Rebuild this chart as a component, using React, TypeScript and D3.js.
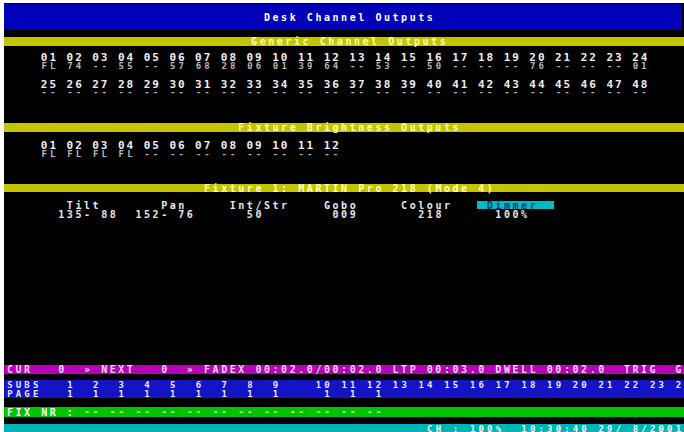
import { useEffect } from "react";
import * as d3 from "d3";

const W = 684;
const H = 432;

// channel data
const genericIds = [
  "01", "02", "03", "04", "05", "06", "07", "08", "09", "10", "11", "12",
  "13", "14", "15", "16", "17", "18", "19", "20", "21", "22", "23", "24",
  "25", "26", "27", "28", "29", "30", "31", "32", "33", "34", "35", "36",
  "37", "38", "39", "40", "41", "42", "43", "44", "45", "46", "47", "48",
];
const genericValues = [
  "FL", "74", "--", "55", "--", "57", "68", "28", "06", "01", "39", "64",
  "--", "53", "--", "50", "--", "--", "--", "76", "--", "--", "--", "01",
  "--", "--", "--", "--", "--", "--", "--", "--", "--", "--", "--", "--",
  "--", "--", "--", "--", "--", "--", "--", "--", "--", "--", "--", "--",
];
const fixtureIds = ["01", "02", "03", "04", "05", "06", "07", "08", "09", "10", "11", "12"];
const fixtureValues = ["FL", "FL", "FL", "FL", "--", "--", "--", "--", "--", "--", "--", "--"];

const paramLabels = ["Tilt", "Pan", "Int/Str", "Gobo", "Colour", "Dimmer"];
const paramValues = ["135- 88", "152- 76", "50", "009", "218", "100%"];
const selectedParam = "Dimmer";

const subIds = [
  "1", "2", "3", "4", "5", "6", "7", "8", "9", "10", "11", "12",
  "13", "14", "15", "16", "17", "18", "19", "20", "21", "22", "23", "24",
];
const pageValues = ["1", "1", "1", "1", "1", "1", "1", "1", "1", "1", "1", "1"];
const fixNrSlots = ["--", "--", "--", "--", "--", "--", "--", "--", "--", "--", "--", "--"];

const statusTexts = ["CUR", "0", "»", "NEXT", "0", "»", "FADEX", "00:02.0/00:02.0", "LTP", "00:03.0", "DWELL", "00:02.0", "TRIG", "GO"];
const clockText = "CH : 100%  10:30:40 29/ 8/2001";

// layout in text columns (80 column screen)
const paramLabelCols = [7, 18, 26, 37, 46, 56];
const paramValueCols = [6, 15, 28, 38, 48, 57];
const statusCols = [0, 6, 9, 11, 18, 21, 23, 29, 45, 49, 57, 63, 72, 78];

const PITCH = 8.57;
const col = d3.scaleLinear().domain([0, 80]).range([5.6, 5.6 + 80 * PITCH]);
const chCol = d3.scaleLinear().domain([0, 23]).range([4, 73]);
const FONT = "'DejaVu Sans Mono', monospace";

function Txt({ c, y, s, size = 11, fill = "#f0f0f0", weight = "bold" }: { c: number; y: number; s: string; size?: number; fill?: string; weight?: string }) {
  const ls = PITCH - 0.602 * size;
  return (
    <text x={col(c) + ls / 2} y={y} fontFamily={FONT} fontSize={size} fontWeight={weight} fill={fill} letterSpacing={ls} style={{ whiteSpace: "pre" }}>
      {s}
    </text>
  );
}

const centerCol = (s: string) => 40 - s.length / 2;

function Bar({ y, h, fill, x0 = 4, x1 = W }: { y: number; h: number; fill: string; x0?: number; x1?: number }) {
  return <rect x={x0} y={y} width={x1 - x0} height={h} fill={fill} />;
}

export default function App() {
  useEffect(() => {
    document.body.style.margin = "0";
  }, []);

  const subCol = (i: number) => (i < 9 ? 7 + 3 * i : 36 + 3 * (i - 9));
  const selIdx = paramLabels.indexOf(selectedParam);

  const t1 = "Desk Channel Outputs";
  const t2 = "Generic Channel Outputs";
  const t3 = "Fixture Brightness Outputs";
  const t4 = "Fixture 1: MARTIN Pro 218 (Mode 4)";

  return (
    <div style={{ position: "absolute", left: 0, top: 0 }}>
      <svg width={W} height={H} style={{ display: "block" }}>
        <rect width={W} height={H} fill="#ffffff" />
        <rect x={4} y={3} width={W - 4} height={H - 3} fill="#000000" />

        {/* title */}
        <Bar y={4} h={26} fill="#0000b8" x1={682} />
        <Txt c={centerCol(t1)} y={21} s={t1} size={10} fill="#ffffff" />

        {/* generic channels */}
        <Bar y={37} h={9} fill="#c4c400" />
        <Txt c={centerCol(t2)} y={45} s={t2} size={10} fill="#ffffb0" />
        {genericIds.map((id, i) => {
          const row = Math.floor(i / 24);
          const c = chCol(i % 24);
          return (
            <g key={id}>
              <Txt c={c} y={row === 0 ? 61 : 88} s={id} />
              <Txt c={c} y={row === 0 ? 68.5 : 95} s={genericValues[i]} size={9} fill="#b8b8b8" />
            </g>
          );
        })}

        {/* fixture brightness */}
        <Bar y={123} h={9} fill="#c4c400" />
        <Txt c={centerCol(t3)} y={131} s={t3} size={10} fill="#ffffb0" />
        {fixtureIds.map((id, i) => (
          <g key={id}>
            <Txt c={chCol(i)} y={149} s={id} />
            <Txt c={chCol(i)} y={157} s={fixtureValues[i]} size={9} fill="#b8b8b8" />
          </g>
        ))}

        {/* fixture parameters */}
        <Bar y={184} h={8} fill="#c4c400" />
        <Txt c={centerCol(t4)} y={191.5} s={t4} size={10} fill="#ffffb0" />
        <rect x={col(55)} y={201} width={col(64) - col(55)} height={8} fill="#00bcbc" />
        {paramLabels.map((p, i) => (
          <g key={p}>
            <Txt c={paramLabelCols[i]} y={208.5} s={p} size={10} fill={i === selIdx ? "#0a3a8a" : "#e8e8e8"} />
            <Txt c={paramValueCols[i]} y={218} s={paramValues[i]} size={10} fill="#e8e8e8" />
          </g>
        ))}

        {/* status line */}
        <Bar y={365} h={9} fill="#b800b8" />
        {statusTexts.map((s, i) => (
          <Txt key={i} c={statusCols[i]} y={373} s={s} size={10} fill="#ffd0ff" />
        ))}

        {/* subs / page */}
        <Bar y={380} h={18} fill="#1414c4" />
        <Txt c={0} y={388} s="SUBS" size={9} fill="#e8e8ff" />
        <Txt c={0} y={397} s="PAGE" size={9} fill="#e8e8ff" />
        {subIds.map((s, i) => (
          <Txt key={s} c={subCol(i)} y={388} s={s} size={9} fill="#e8e8ff" />
        ))}
        {pageValues.map((p, i) => (
          <Txt key={i} c={subCol(i) + (subIds[i].length - 1)} y={397} s={p} size={9} fill="#e8e8ff" />
        ))}

        {/* fixture number */}
        <Bar y={407} h={10} fill="#00c400" />
        <Txt c={0} y={415.5} s="FIX NR :" size={10} fill="#ffffff" />
        {fixNrSlots.map((s, i) => (
          <Txt key={i} c={9 + 3 * i} y={414.5} s={s} size={10} fill="#b0ffb0" />
        ))}

        {/* clock line */}
        <Bar y={424} h={8} fill="#00b4b4" />
        <Txt c={49} y={431.5} s={clockText} size={9} fill="#fff4f4" />
      </svg>
    </div>
  );
}
